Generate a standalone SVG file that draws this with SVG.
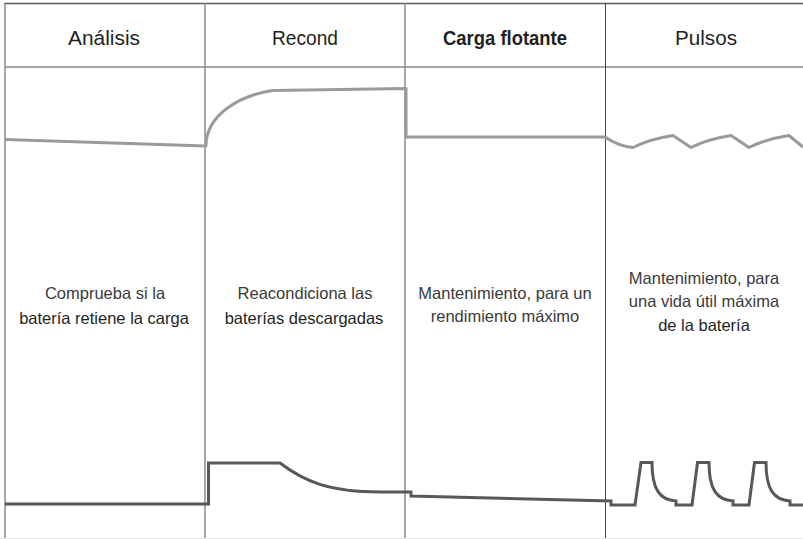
<svg xmlns="http://www.w3.org/2000/svg" width="803" height="539" viewBox="0 0 803 539">
<style>
.grid{stroke:#8a8a8a;stroke-width:1.5;fill:none}
.top{stroke:#999a9e;stroke-width:3;fill:none;stroke-linejoin:round}
.bot{stroke:#58585a;stroke-width:3;fill:none;stroke-linejoin:miter}
.hd{font-family:"Liberation Sans",Arial,sans-serif;font-size:20.5px;fill:#231f20;text-anchor:middle}
.bd{font-family:"Liberation Sans",Arial,sans-serif;font-size:16.5px;fill:#3a3a3a;text-anchor:middle}
.dk{fill:#1f1f1f}
</style>
<rect width="803" height="539" fill="#ffffff"/>
<g id="grid">
<line class="grid" x1="4" y1="3.5" x2="803" y2="3.5" style="stroke:#5a5a5a"/>
<line class="grid" x1="5" y1="67" x2="803" y2="67"/>
<line class="grid" x1="5" y1="3" x2="5" y2="539"/>
<line class="grid" x1="205" y1="3" x2="205" y2="539"/>
<line class="grid" x1="405" y1="3" x2="405" y2="539"/>
<line class="grid" x1="605.5" y1="3" x2="605.5" y2="539" style="stroke:#444;stroke-width:1"/>
<line x1="0" y1="538.5" x2="803" y2="538.5" stroke="#e4e4e4" stroke-width="1"/>
</g>
<g id="col-analisis">
<text class="hd" x="104" y="45" textLength="72" lengthAdjust="spacingAndGlyphs">Análisis</text>
<text class="bd" x="105" y="299">Comprueba si la</text>
<text class="bd dk" x="104" y="324">batería retiene la carga</text>
</g>
<g id="col-recond">
<text class="hd" x="305" y="45" textLength="66" lengthAdjust="spacingAndGlyphs">Recond</text>
<text class="bd" x="305" y="299">Reacondiciona las</text>
<text class="bd dk" x="304" y="324">baterías descargadas</text>
</g>
<g id="col-carga">
<text class="hd" x="505" y="45" font-weight="bold" textLength="124" lengthAdjust="spacingAndGlyphs">Carga flotante</text>
<text class="bd" x="505" y="299">Mantenimiento, para un</text>
<text class="bd" x="505" y="322">rendimiento máximo</text>
</g>
<g id="col-pulsos">
<text class="hd" x="706" y="45" textLength="62" lengthAdjust="spacingAndGlyphs">Pulsos</text>
<text class="bd" x="704" y="284">Mantenimiento, para</text>
<text class="bd" x="704" y="307">una vida útil máxima</text>
<text class="bd dk" x="704" y="331">de la batería</text>
</g>
<g id="connectors">
<path class="top" d="M5,139.5 L206,146 C206,115 240,95 273,90.5 L406,88.5 L406,137 L605,137 Q618,146 633,147.5 Q650,139 673,135.5 L691,147.5 Q708,139 731,135.5 L749,147.5 Q766,139 789,135.5 L803,147"/>
<path class="bot" d="M5,504 L208.5,504 L208.5,463 L280,463 C305,482 330,492 380,492 L411,492 L411,496 L611,501 L611,505 L635,505 L641,462.5 L652,462.5 C652,490 660,500 676,501 L676,505 L692,505 L697.5,462.5 L709,462.5 C709,490 717,500 733,501 L733,505 L749,505 L754.5,462.5 L766,462.5 C766,490 774,500 790,501 L790,505 L803,505"/>
</g>
</svg>
